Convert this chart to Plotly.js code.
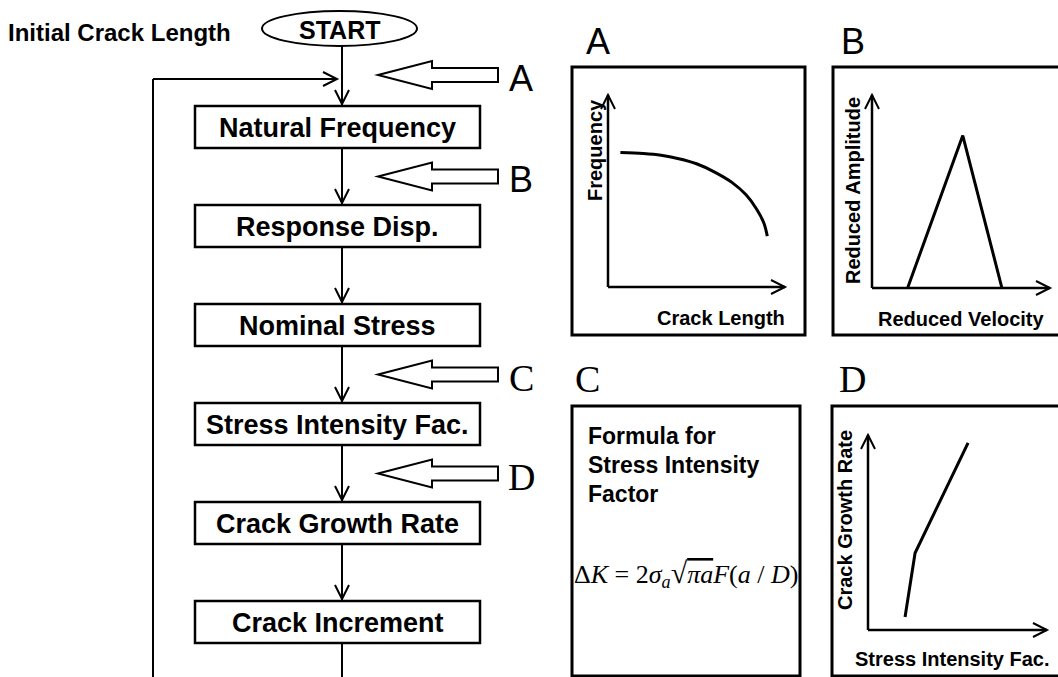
<!DOCTYPE html>
<html>
<head>
<meta charset="utf-8">
<script src="https://cdn.plot.ly/plotly-3.0.1.min.js"></script>
<style>html,body{margin:0;padding:0;background:#fff;}#chart{width:1058px;height:677px;}</style>
</head>
<body>
<div id="chart"></div>
<script>
// ---------------- data ----------------
const startLabel = "START";
const initialLabel = "Initial Crack Length";
const steps = ["Natural Frequency", "Response Disp.", "Nominal Stress", "Stress Intensity Fac.", "Crack Growth Rate", "Crack Increment"];
const inputLetters = ["A", "B", "C", "D"];
const inputAfterStep = [-1, 0, 2, 3];   // input arrow enters after this step (-1 = before the first)

// panel A : frequency vs crack length
const crackLength = [0.7, 2.0, 3.0, 4.0, 5.0, 6.0, 7.0, 7.8, 8.4, 8.8, 9.0];
const frequency   = [7.0, 6.95, 6.86, 6.68, 6.42, 6.0, 5.45, 4.8, 4.05, 3.35, 2.65];
// panel B : reduced amplitude vs reduced velocity
const reducedVelocity  = [2.0, 5.1, 7.3];
const reducedAmplitude = [0.0, 7.9, 0.0];
// panel D : crack growth rate vs stress intensity factor
const stressIntensity = [2.07, 2.63, 5.59];
const crackGrowthRate = [0.67, 3.95, 9.6];

const panelAxisTitles = {
  A: ["Crack Length", "Frequency"],
  B: ["Reduced Velocity", "Reduced Amplitude"],
  D: ["Stress Intensity Fac.", "Crack Growth Rate"]
};
const panelCText = ["Formula for", "Stress Intensity", "Factor"];

// ---------------- layout helpers ----------------
const W = 1058, H = 677;
const shapes = [], annos = [];
const BLACK = '#000';
const SANS = 'Liberation Sans, Arial, sans-serif';
const SERIF = 'Liberation Serif, Times New Roman, serif';

function line(x0, y0, x1, y1, w) {
  shapes.push({type:'line', xref:'x', yref:'y', x0, y0, x1, y1, line:{color:BLACK, width:w || 2}});
}
function path(d, w, fill) {
  shapes.push({type:'path', xref:'x', yref:'y', path:d, line:{color:BLACK, width:w || 2},
               fillcolor: fill || 'rgba(0,0,0,0)'});
}
function rect(x0, y0, x1, y1, w) {
  shapes.push({type:'rect', xref:'x', yref:'y', x0, y0, x1, y1, line:{color:BLACK, width:w || 2.5},
               fillcolor:'rgba(0,0,0,0)'});
}
function chevDown(x, y) { path(`M${x-7},${y-14} L${x},${y} L${x+7},${y-14}`, 2); }
function chevUp(x, y)   { path(`M${x-7},${y+14} L${x},${y} L${x+7},${y+14}`, 2); }
function chevRight(x, y){ path(`M${x-14},${y-7} L${x},${y} L${x-14},${y+7}`, 2); }
function text(t, x, y, size, opts) {
  opts = opts || {};
  annos.push(Object.assign({xref:'x', yref:'y', x, y, text:t, showarrow:false,
    xanchor:'center', yanchor:'middle',
    font:{family: opts.family || SANS, size, color:BLACK}}, opts.extra || {}));
}

// ---------------- flowchart ----------------
const mainX = 342, boxX0 = 195, boxX1 = 480, boxTop0 = 106, pitch = 99, boxH = 42;
const boxTop = i => boxTop0 + i * pitch;

text('<b>' + initialLabel + '</b>', 233, 32, 24, {extra:{xanchor:'right'}});
shapes.push({type:'circle', xref:'x', yref:'y', x0:262, x1:417, y0:11, y1:46,
             line:{color:BLACK, width:2}, fillcolor:'rgba(0,0,0,0)'});
text('<b>' + startLabel + '</b>', 339, 30, 25);

// line from START to first box
line(mainX, 46, mainX, boxTop(0));
chevDown(mainX, boxTop(0) - 2);
// loop-back line
const loopX = 153, loopY = 79;
line(loopX, loopY, loopX, H + 5);
line(loopX, loopY, 337, loopY);
chevRight(337, loopY);

steps.forEach((s, i) => {
  const t = boxTop(i);
  rect(boxX0, t, boxX1, t + boxH, 2.5);
  text('<b>' + s + '</b>', (boxX0 + boxX1) / 2, t + boxH / 2 + 1, 27);
  if (i < steps.length - 1) {
    line(mainX, t + boxH, mainX, boxTop(i + 1));
    chevDown(mainX, boxTop(i + 1) - 2);
  } else {
    line(mainX, t + boxH, mainX, H + 5);
  }
});

// hollow input arrows
inputLetters.forEach((L, k) => {
  const s = inputAfterStep[k];
  const c = s < 0 ? 75 : boxTop(s) + boxH + (pitch - boxH) / 2;
  const tip = 378, hb = 432, end = 498;
  path(`M${tip},${c} L${hb},${c-14} L${hb},${c-7} L${end},${c-7} L${end},${c+7} L${hb},${c+7} L${hb},${c+14} Z`, 2, '#fff');
  const serif = (L === 'C' || L === 'D');
  text(L, 521, c + 3, serif ? 38 : 36, {family: serif ? SERIF : SANS});
});

// ---------------- right panels ----------------
// panel letters
text('A', 598, 41, 36);
text('B', 853, 41, 36);
text('C', 587, 379, 38, {family:SERIF});
text('D', 852, 379, 38, {family:SERIF});

// frames
rect(572, 67, 805, 335, 3);
rect(833, 67, 1080, 335, 3);
rect(572, 406, 800, 676, 3);
rect(832, 406, 1080, 676, 3);

// mini-plot geometry (origin x, origin y, x-arrow tip, y-arrow tip) in page pixels
const mini = {
  A: {ox:608, oy:287, xt:785, yt:95, ax:'2'},
  B: {ox:872, oy:288, xt:1050, yt:95, ax:'3'},
  D: {ox:868, oy:630, xt:1047, yt:435, ax:'4'}
};
Object.keys(mini).forEach(k => {
  const m = mini[k];
  line(m.ox, m.oy, m.xt, m.oy, 2.5);
  line(m.ox, m.oy, m.ox, m.yt, 2.5);
  chevRight(m.xt, m.oy);
  chevUp(m.ox, m.yt);
});

// axis titles
text('<b>' + panelAxisTitles.A[0] + '</b>', 787, 318, 20, {extra:{xanchor:'right'}});
text('<b>' + panelAxisTitles.A[1] + '</b>', 595, 150, 20, {extra:{textangle:-90}});
text('<b>' + panelAxisTitles.B[0] + '</b>', 961, 319, 20);
text('<b>' + panelAxisTitles.B[1] + '</b>', 853, 191, 20, {extra:{textangle:-90}});
text('<b>' + panelAxisTitles.D[0] + '</b>', 952, 659, 20);
text('<b>' + panelAxisTitles.D[1] + '</b>', 845, 520, 20, {extra:{textangle:-90}});

// panel C text
panelCText.forEach((t, i) => {
  text('<b>' + t + '</b>', 586, 436 + i * 29, 23, {extra:{xanchor:'left'}});
});
text('Δ<i>K</i> = 2<i>σ</i><sub><i>a</i></sub><span style="font-size:30px">√</span><span style="text-decoration:overline"><i>πa</i></span><i>F</i>(<i>a</i> / <i>D</i>)',
     686, 574, 26, {family:SERIF});

// ---------------- traces ----------------
const traces = [
  {x:crackLength, y:frequency, xaxis:'x2', yaxis:'y2', mode:'lines', line:{color:BLACK, width:3, shape:'spline'}, hoverinfo:'skip'},
  {x:reducedVelocity, y:reducedAmplitude, xaxis:'x3', yaxis:'y3', mode:'lines', line:{color:BLACK, width:3}, hoverinfo:'skip'},
  {x:stressIntensity, y:crackGrowthRate, xaxis:'x4', yaxis:'y4', mode:'lines', line:{color:BLACK, width:3}, hoverinfo:'skip'}
];

const hidden = {visible:false, fixedrange:true, showgrid:false, zeroline:false};
const layout = {
  width:W, height:H, margin:{l:0, r:0, t:0, b:0},
  paper_bgcolor:'#fff', plot_bgcolor:'rgba(0,0,0,0)',
  showlegend:false,
  xaxis: Object.assign({range:[0, W], domain:[0, 1]}, hidden),
  yaxis: Object.assign({range:[H, 0], domain:[0, 1]}, hidden),
  shapes, annotations: annos
};
Object.keys(mini).forEach(k => {
  const m = mini[k];
  layout['xaxis' + m.ax] = Object.assign({range:[0, 10], domain:[m.ox / W, m.xt / W], anchor:'y' + m.ax}, hidden);
  layout['yaxis' + m.ax] = Object.assign({range:[0, 10], domain:[1 - m.oy / H, 1 - m.yt / H], anchor:'x' + m.ax}, hidden);
});

Plotly.newPlot('chart', traces, layout, {staticPlot:true, displayModeBar:false});
</script>
</body>
</html>
